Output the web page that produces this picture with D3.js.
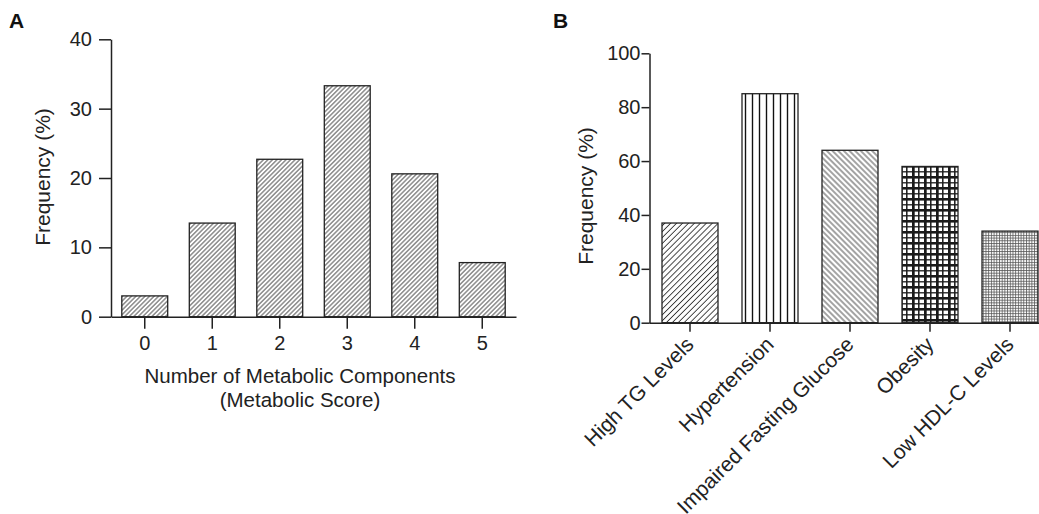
<!DOCTYPE html>
<html>
<head>
<meta charset="utf-8">
<script src="https://cdn.jsdelivr.net/npm/d3@7"></script>
<style>
  body { margin: 0; background: #fff; }
  svg { display: block; font-family: "Liberation Sans", Arial, Helvetica, sans-serif; }
</style>
</head>
<body>
<svg id="chart" width="1039" height="514"></svg>
<script>
//
// Data
//

// panel A: metabolic score distribution
var scoreCategories = ['0', '1', '2', '3', '4', '5']
var scoreFreq = [3.0, 13.5, 22.7, 33.3, 20.6, 7.8]
var scoreTicks = [0, 10, 20, 30, 40]

// panel B: prevalence of each component
var componentCategories = ['High TG Levels', 'Hypertension', 'Impaired Fasting Glucose', 'Obesity', 'Low HDL-C Levels']
var componentFreq = [37, 85, 64, 58, 34]
var componentTicks = [0, 20, 40, 60, 80, 100]

//
// Setup
//

var ink = '#222'
var svg = d3.select('#chart')
var defs = svg.append('defs')

// hatch with parallel lines, rotated
function hatch(id, gap, angle, color, width) {
  var p = defs.append('pattern')
    .attr('id', id)
    .attr('patternUnits', 'userSpaceOnUse')
    .attr('width', gap).attr('height', gap)
    .attr('patternTransform', 'rotate(' + angle + ')')
  p.append('line')
    .attr('x1', gap / 2).attr('y1', 0).attr('x2', gap / 2).attr('y2', gap)
    .attr('stroke', color).attr('stroke-width', width)
}

hatch('hatchA', 3.2, 45, '#333', 0.85)
hatch('hatchUp', 4.2, 45, '#333', 0.9)
hatch('hatchDown', 4.0, -45, '#333', 0.9)
hatch('vlines', 7, 0, '#111', 1.4)

// heavy grid (obesity)
var pg = defs.append('pattern')
  .attr('id', 'heavyGrid')
  .attr('patternUnits', 'userSpaceOnUse')
  .attr('width', 12).attr('height', 11)
pg.append('rect').attr('width', 12).attr('height', 11).attr('fill', '#fff')
pg.append('line').attr('x1', 1.3).attr('y1', 0).attr('x2', 1.3).attr('y2', 11).attr('stroke', '#1a1a1a').attr('stroke-width', 2.8)
pg.append('line').attr('x1', 6.8).attr('y1', 0).attr('x2', 6.8).attr('y2', 11).attr('stroke', '#1a1a1a').attr('stroke-width', 1.5)
pg.append('line').attr('x1', 0).attr('y1', 1.3).attr('x2', 12).attr('y2', 1.3).attr('stroke', '#1a1a1a').attr('stroke-width', 2.6)
pg.append('line').attr('x1', 0).attr('y1', 6.8).attr('x2', 12).attr('y2', 6.8).attr('stroke', '#1a1a1a').attr('stroke-width', 1.3)

// fine grid (low HDL-C)
var fg = defs.append('pattern')
  .attr('id', 'fineGrid')
  .attr('patternUnits', 'userSpaceOnUse')
  .attr('width', 2.7).attr('height', 2.7)
fg.append('rect').attr('width', 2.7).attr('height', 2.7).attr('fill', '#fff')
fg.append('line').attr('x1', 0.5).attr('y1', 0).attr('x2', 0.5).attr('y2', 2.7).attr('stroke', '#555').attr('stroke-width', 0.8)
fg.append('line').attr('x1', 0).attr('y1', 0.5).attr('x2', 2.7).attr('y2', 0.5).attr('stroke', '#555').attr('stroke-width', 0.8)

var fillsB = ['hatchUp', 'vlines', 'hatchDown', 'heavyGrid', 'fineGrid']

function styleAxis(g, size) {
  g.select('.domain').attr('stroke', ink).attr('stroke-width', 1.5)
  g.selectAll('.tick line').attr('stroke', ink).attr('stroke-width', 1.5)
  g.selectAll('.tick text').attr('fill', ink).style('font-size', size + 'px')
  g.attr('font-family', null).attr('font-size', null)
}

//
// Panel A
//

var xA = d3.scaleBand()
  .domain(scoreCategories)
  .range([111, 516])
  .paddingInner(0.32)
  .paddingOuter(0.16)

var yA = d3.scaleLinear()
  .domain([0, 40])
  .range([316.7, 39.3])

var panelA = svg.append('g')

panelA.selectAll('rect')
  .data(scoreFreq)
  .enter()
  .append('rect')
  .attr('x', (d, i) => xA(scoreCategories[i]))
  .attr('y', d => yA(d))
  .attr('width', xA.bandwidth())
  .attr('height', d => yA(0) - yA(d))
  .attr('fill', 'url(#hatchA)')
  .attr('stroke', ink)
  .attr('stroke-width', 1.3)

panelA.append('g')
  .attr('transform', 'translate(111,0)')
  .call(d3.axisLeft(yA).tickValues(scoreTicks).tickSize(12).tickPadding(7).tickSizeOuter(0))
  .call(styleAxis, 20)

panelA.append('g')
  .attr('transform', 'translate(0,' + yA(0) + ')')
  .call(d3.axisBottom(xA).tickSize(12).tickPadding(7).tickSizeOuter(0))
  .call(styleAxis, 20)

panelA.append('text')
  .attr('transform', 'translate(50,177) rotate(-90)')
  .attr('text-anchor', 'middle')
  .attr('fill', ink)
  .style('font-size', '21px')
  .text('Frequency (%)')

panelA.append('text')
  .attr('x', 300).attr('y', 383)
  .attr('text-anchor', 'middle')
  .attr('fill', ink)
  .style('font-size', '20.5px')
  .text('Number of Metabolic Components')

panelA.append('text')
  .attr('x', 300).attr('y', 407)
  .attr('text-anchor', 'middle')
  .attr('fill', ink)
  .style('font-size', '20.5px')
  .text('(Metabolic Score)')

svg.append('text')
  .attr('x', 9).attr('y', 28)
  .attr('fill', '#111')
  .style('font-size', '21px')
  .style('font-weight', 'bold')
  .text('A')

//
// Panel B
//

var xB = d3.scaleBand()
  .domain(componentCategories)
  .range([650, 1050])
  .paddingInner(0.3)
  .paddingOuter(0.15)

var yB = d3.scaleLinear()
  .domain([0, 100])
  .range([322.7, 53.3])

var panelB = svg.append('g')

panelB.selectAll('rect')
  .data(componentFreq)
  .enter()
  .append('rect')
  .attr('x', (d, i) => xB(componentCategories[i]))
  .attr('y', d => yB(d))
  .attr('width', xB.bandwidth())
  .attr('height', d => yB(0) - yB(d))
  .attr('fill', (d, i) => 'url(#' + fillsB[i] + ')')
  .attr('stroke', ink)
  .attr('stroke-width', 1.3)

panelB.append('g')
  .attr('transform', 'translate(649.5,0)')
  .call(d3.axisLeft(yB).tickValues(componentTicks).tickSize(8).tickPadding(1).tickSizeOuter(0))
  .call(styleAxis, 20)

var axisB = panelB.append('g')
  .attr('transform', 'translate(0,' + yB(0) + ')')
  .call(d3.axisBottom(xB).tickSize(9).tickSizeOuter(0))
  .call(styleAxis, 21)

axisB.select('.domain').attr('d', 'M649.5,0.5H1039')

axisB.selectAll('.tick text')
  .attr('x', 0).attr('y', 0).attr('dy', null)
  .attr('text-anchor', 'end')
  .attr('transform', 'translate(5,23) rotate(-45)')

panelB.append('text')
  .attr('transform', 'translate(593,196) rotate(-90)')
  .attr('text-anchor', 'middle')
  .attr('fill', ink)
  .style('font-size', '21px')
  .text('Frequency (%)')

svg.append('text')
  .attr('x', 553).attr('y', 28)
  .attr('fill', '#111')
  .style('font-size', '21px')
  .style('font-weight', 'bold')
  .text('B')
</script>
</body>
</html>
